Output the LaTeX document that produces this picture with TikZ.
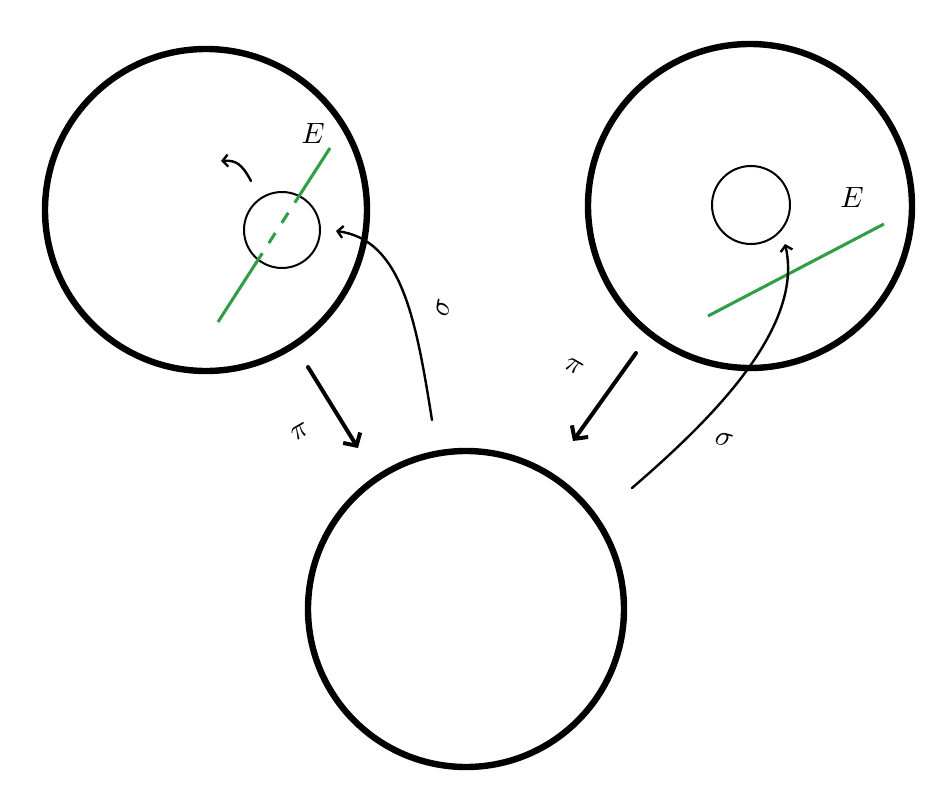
\documentclass[tikz,border=0pt]{standalone}
\usetikzlibrary{arrows.meta}
\definecolor{fibgreen}{HTML}{2F9E44}
\newcommand{\biglbl}[1]{\scalebox{2.2}{$#1$}}
\begin{document}
\begin{tikzpicture}[x=0.75pt,y=-0.75pt,
  bigcirc/.style={draw=black,line width=4.8pt},
  smallcirc/.style={draw=black,line width=1.5pt},
  fiber/.style={draw=fibgreen,line width=2.3pt},
  projarrow/.style={draw=black,line width=3pt,line cap=round,-{Straight Barb[length=7pt,width=15pt,line width=3pt]}},
  secarrow/.style={draw=black,line width=1.8pt,line cap=round,-{Straight Barb[length=4pt,width=9pt,line width=1.8pt]}},
  lbl/.style={inner sep=0pt}]
\useasboundingbox (0,0) rectangle (951,796);
\fill[white] (0,0) rectangle (951,796);
% big circles
\node[bigcirc,circle,minimum size=322pt*0.75,inner sep=0pt] (tl) at (206,210) {};
\node[bigcirc,circle,minimum size=324pt*0.75,inner sep=0pt] (tr) at (750,206) {};
\node[bigcirc,circle,minimum size=316pt*0.75,inner sep=0pt] (bot) at (466,609) {};
% small circles
\node[smallcirc,circle,minimum size=76pt*0.75,inner sep=0pt] (sl) at (282,230) {};
\node[smallcirc,circle,minimum size=78pt*0.75,inner sep=0pt] (sr) at (751,205) {};
% left fiber
\coordinate (fa) at (218,322);
\coordinate (fb) at (330,148);
\coordinate (fin1) at (258.2,259.6);
\coordinate (fin2) at (299.1,196.0);
\draw[fiber] (fa) -- (fin1);
\draw[fiber] (fin2) -- (fb);
\draw[fiber,dash pattern=on 9pt off 9pt,dash phase=3pt] (fin2) -- (fin1);
% right fiber
\coordinate (ga) at (708,316);
\coordinate (gb) at (884,224);
\draw[fiber] (ga) -- (gb);
% labels E
\node[lbl] (el) at (313,133) {\biglbl{E}};
\node[lbl] (er) at (852,197) {\biglbl{E}};
% projection arrows
\coordinate (p1s) at (308,367);
\coordinate (p1e) at (358,448);
\draw[projarrow] (p1s) -- (p1e);
\coordinate (p2s) at (636,353);
\coordinate (p2e) at (573,441);
\draw[projarrow] (p2s) -- (p2e);
\node[lbl,rotate=30] (pil) at (300,432) {\biglbl{\pi}};
\node[lbl,rotate=-30] (pir) at (574,366) {\biglbl{\pi}};
% section arrows
\coordinate (s1s) at (432,420);
\coordinate (s1e) at (336,231);
\draw[secarrow] (s1s) .. controls (416,320) and (402,240) .. (s1e);
\node[lbl,rotate=80] (sgl) at (443,308) {\biglbl{\sigma}};
\coordinate (s2s) at (632,488);
\coordinate (s2e) at (785,244);
\draw[secarrow] (s2s) .. controls (705,425) and (805,330) .. (s2e);
\node[lbl,rotate=-15] (sgr) at (724,440) {\biglbl{\sigma}};
% small arrow
\coordinate (t1s) at (251,181);
\coordinate (t1e) at (221,161);
\draw[secarrow] (t1s) .. controls (242,164) and (236,160) .. (t1e);
\end{tikzpicture}
\end{document}
